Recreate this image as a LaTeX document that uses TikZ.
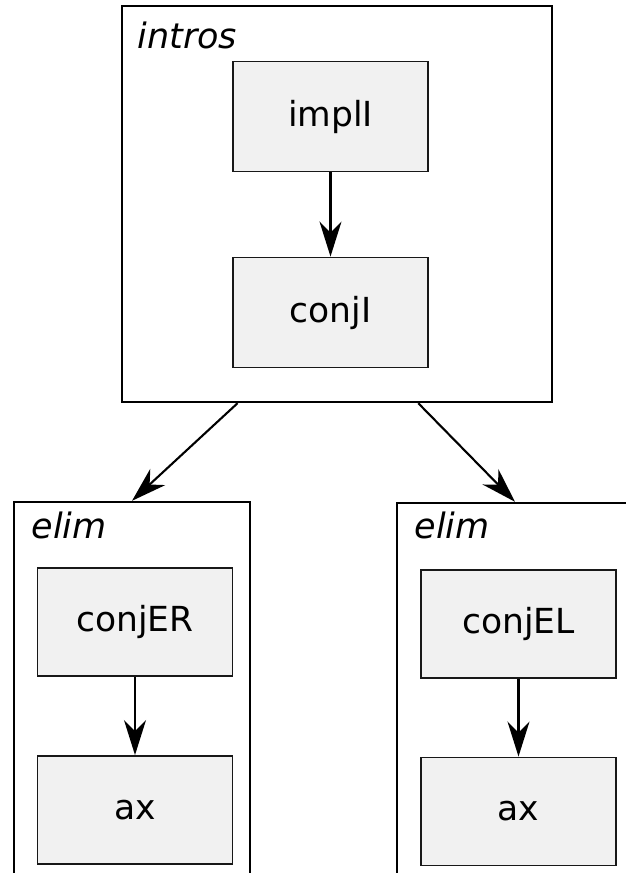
\documentclass[tikz,border=0pt]{standalone}
\usepackage{fontspec}
\setmainfont{DejaVu Sans}
\usetikzlibrary{positioning,arrows.meta,calc}
\definecolor{rulefill}{HTML}{F1F1F1}
\definecolor{ruleline}{HTML}{181818}

\begin{document}
\begin{tikzpicture}[x=1pt,y=-1pt,
	>={Stealth[length=35pt,width=22pt,inset=11pt]},
	rule/.style={draw=ruleline,fill=rulefill,line width=1.9pt,
		minimum width=195pt,minimum height=110pt,
		font=\fontsize{34.5}{40}\selectfont},
	frame/.style={draw=black,line width=2.4pt,minimum width=236pt,minimum height=418pt},
	tag/.style={anchor=base west,font=\fontsize{35}{40}\selectfont\itshape},
	link/.style={->,line width=2.1pt}]
	\useasboundingbox (0,0) rectangle (626,873);
	\clip (0,0) rectangle (626,873);

	% intros frame
	\node[frame,minimum width=430pt,minimum height=396pt] (intros) at (337,204) {};
	\node[tag] (introsT) at (134,48) {intros};
	\node[rule] (implI) at (330.5,116.5) {implI};
	\node[rule] (conjI) at (330.5,312.5) {conjI};

	% elim frames
	\node[frame] (elimL) at (132,711) {};
	\node[tag] (elimLT) at (28,538) {elim};
	\node[rule,minimum height=108pt] (conjER) at (135,622) {conjER};
	\node[rule,minimum height=108pt] (axL) at (135,810) {ax};

	\node[frame] (elimR) at (515,712) {};
	\node[tag] (elimRT) at (411,538) {elim};
	\node[rule,minimum height=108pt] (conjEL) at (518.5,624) {conjEL};
	\node[rule,minimum height=108pt] (axR) at (518.5,811.5) {ax};

	\draw[link] (implI) -- (conjI);
	\draw[link] (conjER) -- (axL);
	\draw[link] (conjEL) -- (axR);
	\draw[link] ($(intros.south west)!0.27!(intros.south east)$) -- (elimL.north);
	\draw[link] ($(intros.south west)!0.688!(intros.south east)$) -- (elimR.north);
\end{tikzpicture}
\end{document}
